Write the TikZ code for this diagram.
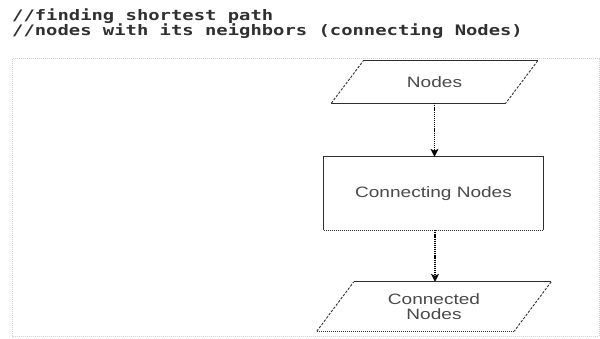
\documentclass[tikz,border=0pt]{standalone}
\usepackage{fontspec}
\usetikzlibrary{arrows.meta,calc}
\newfontfamily\codefont[FakeStretch=1.30]{DejaVu Sans Mono}
\newfontfamily\labelfont[FakeStretch=1.27]{Liberation Sans}
\definecolor{codegray}{HTML}{303030}
\definecolor{labelgray}{HTML}{4A4A4A}
\definecolor{edgegray}{HTML}{303030}
\definecolor{framegray}{HTML}{D0D0D0}
\tikzset{
  codeline/.style={anchor=base west, inner sep=0pt, text=codegray, font=\codefont\bfseries\fontsize{14.5}{16}\selectfont},
  boxlabel/.style={inner sep=0pt, text=labelgray, align=center, font=\labelfont\fontsize{15}{15.5}\selectfont},
  solidedge/.style={draw=edgegray, line width=0.9pt},
  dashedge/.style={draw=edgegray, line width=0.9pt, dash pattern=on 2.5pt off 1.5pt},
  dotedge/.style={draw=edgegray, line width=1pt, dash pattern=on 1pt off 1pt},
  flowline/.style={draw=black, line width=1.9pt, dash pattern=on 1.2pt off 0.9pt},
  flowtip/.style={fill=black, draw=none},
}
\begin{document}
\begin{tikzpicture}[x=1pt,y=-1pt]
\useasboundingbox (0,0) rectangle (600,339);
\fill[white] (0,0) rectangle (600,339);

% comment lines above the chart
\node[codeline] (c1) at (12,21) {//finding shortest path};
\node[codeline] (c2) at (12,36) {//nodes with its neighbors (connecting Nodes)};

% dotted frame of the chart area
\draw[framegray, line width=1pt, densely dotted] (12,59) rectangle (599,336);

% flow chart nodes
\node[boxlabel, minimum width=174pt, minimum height=42pt] (n1) at (434.5,82) {Nodes};
\node[boxlabel, minimum width=219pt, minimum height=73pt] (n2) at (433.5,193.5) {Connecting Nodes};
\node[boxlabel, minimum width=197pt, minimum height=49pt] (n3) at (434,306.5) {Connected\\Nodes};

% outline of the first parallelogram
\coordinate (a1) at ($(n1.north west)+(16,0)$);
\coordinate (a2) at ($(n1.north east)+(16,0)$);
\coordinate (a3) at ($(n1.south east)+(-16,0)$);
\coordinate (a4) at ($(n1.south west)+(-16,0)$);
\draw[solidedge] (a1) -- (a2);
\draw[solidedge] (a4) -- (a3);
\draw[dashedge] (a2) -- (a3);
\draw[dashedge] (a4) -- (a1);

% outline of the rectangle
\draw[solidedge] (n2.south west) -- (n2.north west) -- (n2.north east) -- (n2.south east);
\draw[dotedge] (n2.south west) -- (n2.south east);

% outline of the second parallelogram
\coordinate (b1) at ($(n3.north west)+(18.5,0)$);
\coordinate (b2) at ($(n3.north east)+(18.5,0)$);
\coordinate (b3) at ($(n3.south east)+(-18.5,0)$);
\coordinate (b4) at ($(n3.south west)+(-18.5,0)$);
\draw[solidedge] (b1) -- (b2);
\draw[dotedge] (b4) -- (b3);
\draw[dashedge] (b2) -- (b3);
\draw[dashedge] (b4) -- (b1);

% connectors: dotted shaft with a solid triangular head
\coordinate (s1) at (n1.south);
\coordinate (e1) at (s1 |- n2.north);
\coordinate (s2) at ($(n2.south)+(1.5,0)$);
\coordinate (e2) at (s2 |- n3.north);
\draw[flowline] (s1) -- ($(e1)+(0,-6)$);
\fill[flowtip] (e1) -- ($(e1)+(-4,-8)$) -- ($(e1)+(0,-6)$) -- ($(e1)+(4,-8)$) -- cycle;
\draw[flowline] (s2) -- ($(e2)+(0,-6)$);
\fill[flowtip] (e2) -- ($(e2)+(-4,-8)$) -- ($(e2)+(0,-6)$) -- ($(e2)+(4,-8)$) -- cycle;
\end{tikzpicture}
\end{document}
